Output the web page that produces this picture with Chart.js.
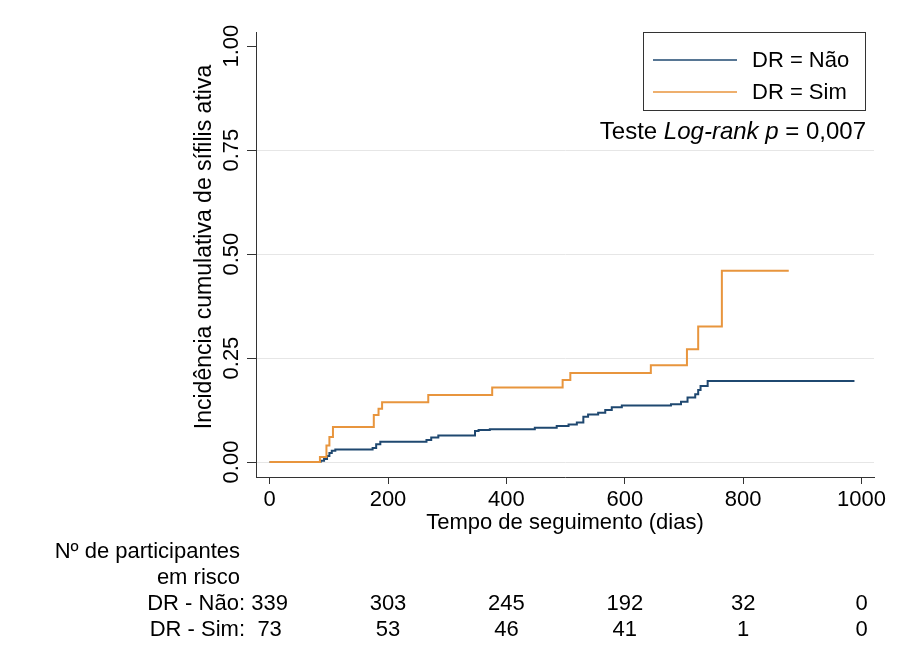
<!DOCTYPE html>
<html>
<head>
<meta charset="utf-8">
<script src="https://cdn.jsdelivr.net/npm/chart.js@4.4.0/dist/chart.umd.min.js"></script>
<style>
  html, body { margin: 0; padding: 0; background: #fff; }
  canvas { display: block; }
</style>
</head>
<body>
<canvas id="km" width="899" height="657"></canvas>
<script>
// Kaplan-Meier cumulative incidence
const timeNao = [0, 86, 92, 97, 101, 105, 111, 174, 180, 187, 265, 273, 285, 347, 353, 372, 448, 485, 505, 519, 530, 538, 555, 567, 578, 595, 678, 695, 706, 719, 724, 728, 740, 988];
const incNao = [0, 0.003, 0.007, 0.0145, 0.022, 0.027, 0.03, 0.034, 0.0425, 0.049, 0.053, 0.059, 0.064, 0.0745, 0.077, 0.079, 0.0825, 0.0865, 0.0905, 0.095, 0.109, 0.1145, 0.1185, 0.125, 0.1315, 0.136, 0.139, 0.145, 0.155, 0.163, 0.173, 0.183, 0.195, 0.195];
const timeSim = [0, 85, 96, 101, 107, 176, 184, 190, 268, 376, 495, 508, 644, 705, 724, 764, 877];
const incSim = [0, 0.012, 0.04, 0.06, 0.084, 0.113, 0.128, 0.144, 0.161, 0.179, 0.197, 0.214, 0.233, 0.271, 0.326, 0.46, 0.46];

const groups = ['DR = Não', 'DR = Sim'];
const colors = ['#1f4870', '#e8953d'];
const xTicks = [0, 200, 400, 600, 800, 1000];
const yTicks = [0, 0.25, 0.5, 0.75, 1];
const yLabels = ['0.00', '0.25', '0.50', '0.75', '1.00'];
const yTitle = 'Incidência cumulativa de sífilis ativa';

// numbers at risk
const riskRows = ['DR - Não:', 'DR - Sim:'];
const riskNao = [339, 303, 245, 192, 32, 0];
const riskSim = [73, 53, 46, 41, 1, 0];

const FONT = '"Liberation Sans", Arial, sans-serif';
const fontPx = 22;

const extras = {
    id: 'extras',
    afterDraw(chart) {
        const ctx = chart.ctx;
        const xs = chart.scales.x;
        const ys = chart.scales.y;
        ctx.save();
        ctx.fillStyle = '#000';
        ctx.font = fontPx + 'px ' + FONT;

        // rotated y tick labels
        ctx.textAlign = 'center';
        ctx.textBaseline = 'middle';
        yTicks.forEach((v, i) => {
            ctx.save();
            ctx.translate(232, ys.getPixelForValue(v));
            ctx.rotate(-Math.PI / 2);
            ctx.fillText(yLabels[i], 0, 0);
            ctx.restore();
        });

        // y axis title
        ctx.save();
        ctx.font = '23px ' + FONT;
        ctx.translate(205, 247);
        ctx.rotate(-Math.PI / 2);
        ctx.fillText(yTitle, 0, 0);
        ctx.restore();

        // legend box
        const ds = chart.data.datasets;
        ctx.strokeStyle = '#333';
        ctx.lineWidth = 1;
        ctx.strokeRect(643.5, 32.5, 222, 78);
        ctx.textAlign = 'left';
        [60, 92].forEach((y, i) => {
            ctx.strokeStyle = ds[i].borderColor;
            ctx.lineWidth = 1.5;
            ctx.beginPath();
            ctx.moveTo(653, y);
            ctx.lineTo(737, y);
            ctx.stroke();
            ctx.fillText(ds[i].label, 752, y + 1);
        });

        // log-rank note, partly italic
        const parts = [['Teste ', false], ['Log-rank', true], [' ', false], ['p', true], [' = 0,007', false]];
        const fnt = it => (it ? 'italic ' : '') + '24px ' + FONT;
        let total = 0;
        parts.forEach(p => { ctx.font = fnt(p[1]); total += ctx.measureText(p[0]).width; });
        let x = 866 - total;
        parts.forEach(p => {
            ctx.font = fnt(p[1]);
            ctx.fillText(p[0], x, 132);
            x += ctx.measureText(p[0]).width;
        });

        // risk table
        ctx.font = fontPx + 'px ' + FONT;
        ctx.textAlign = 'right';
        ctx.fillText('Nº de participantes', 240, 552);
        ctx.fillText('em risco', 240, 578);
        ctx.fillText(riskRows[0], 245, 604);
        ctx.fillText(riskRows[1], 245, 630);
        ctx.textAlign = 'center';
        xTicks.forEach((t, i) => {
            const px = xs.getPixelForValue(t);
            ctx.fillText(String(riskNao[i]), px, 604);
            ctx.fillText(String(riskSim[i]), px, 630);
        });
        ctx.restore();
    }
};

new Chart(document.getElementById('km').getContext('2d'), {
    type: 'line',
    data: {
        datasets: [{
            label: groups[0],
            data: timeNao.map((t, i) => ({ x: t, y: incNao[i] })),
            borderColor: colors[0],
            borderWidth: 2,
            pointRadius: 0,
            stepped: true,
            order: 1
        }, {
            label: groups[1],
            data: timeSim.map((t, i) => ({ x: t, y: incSim[i] })),
            borderColor: colors[1],
            borderWidth: 2,
            pointRadius: 0,
            stepped: true,
            order: 0
        }]
    },
    options: {
        responsive: false,
        animation: false,
        layout: { padding: { top: 32, right: 25, left: 0, bottom: 0 } },
        plugins: { legend: { display: false }, tooltip: { enabled: false } },
        scales: {
            x: {
                type: 'linear',
                min: -23,
                max: 1021,
                afterBuildTicks: s => { s.ticks = xTicks.map(v => ({ value: v })); },
                afterFit: s => { s.height = 180; },
                grid: { drawOnChartArea: false, tickLength: 7, tickColor: '#333' },
                border: { color: '#333', width: 1 },
                ticks: {
                    color: '#000',
                    font: { size: fontPx, family: FONT },
                    padding: 3,
                    maxRotation: 0,
                    autoSkip: false,
                    callback: v => String(v)
                },
                title: {
                    display: true,
                    text: 'Tempo de seguimento (dias)',
                    color: '#000',
                    font: { size: fontPx, family: FONT },
                    padding: { top: 0, bottom: 121 }
                }
            },
            y: {
                type: 'linear',
                min: -0.036,
                max: 1.034,
                afterBuildTicks: s => { s.ticks = yTicks.map(v => ({ value: v })); },
                afterFit: s => { s.width = 256; },
                grid: {
                    color: c => (c.tick && c.tick.value === 1) ? 'rgba(0,0,0,0)' : '#e6e6e6',
                    tickColor: '#333',
                    tickLength: 9
                },
                border: { color: '#333', width: 1 },
                ticks: { display: false }
            }
        }
    },
    plugins: [extras]
});
</script>
</body>
</html>
